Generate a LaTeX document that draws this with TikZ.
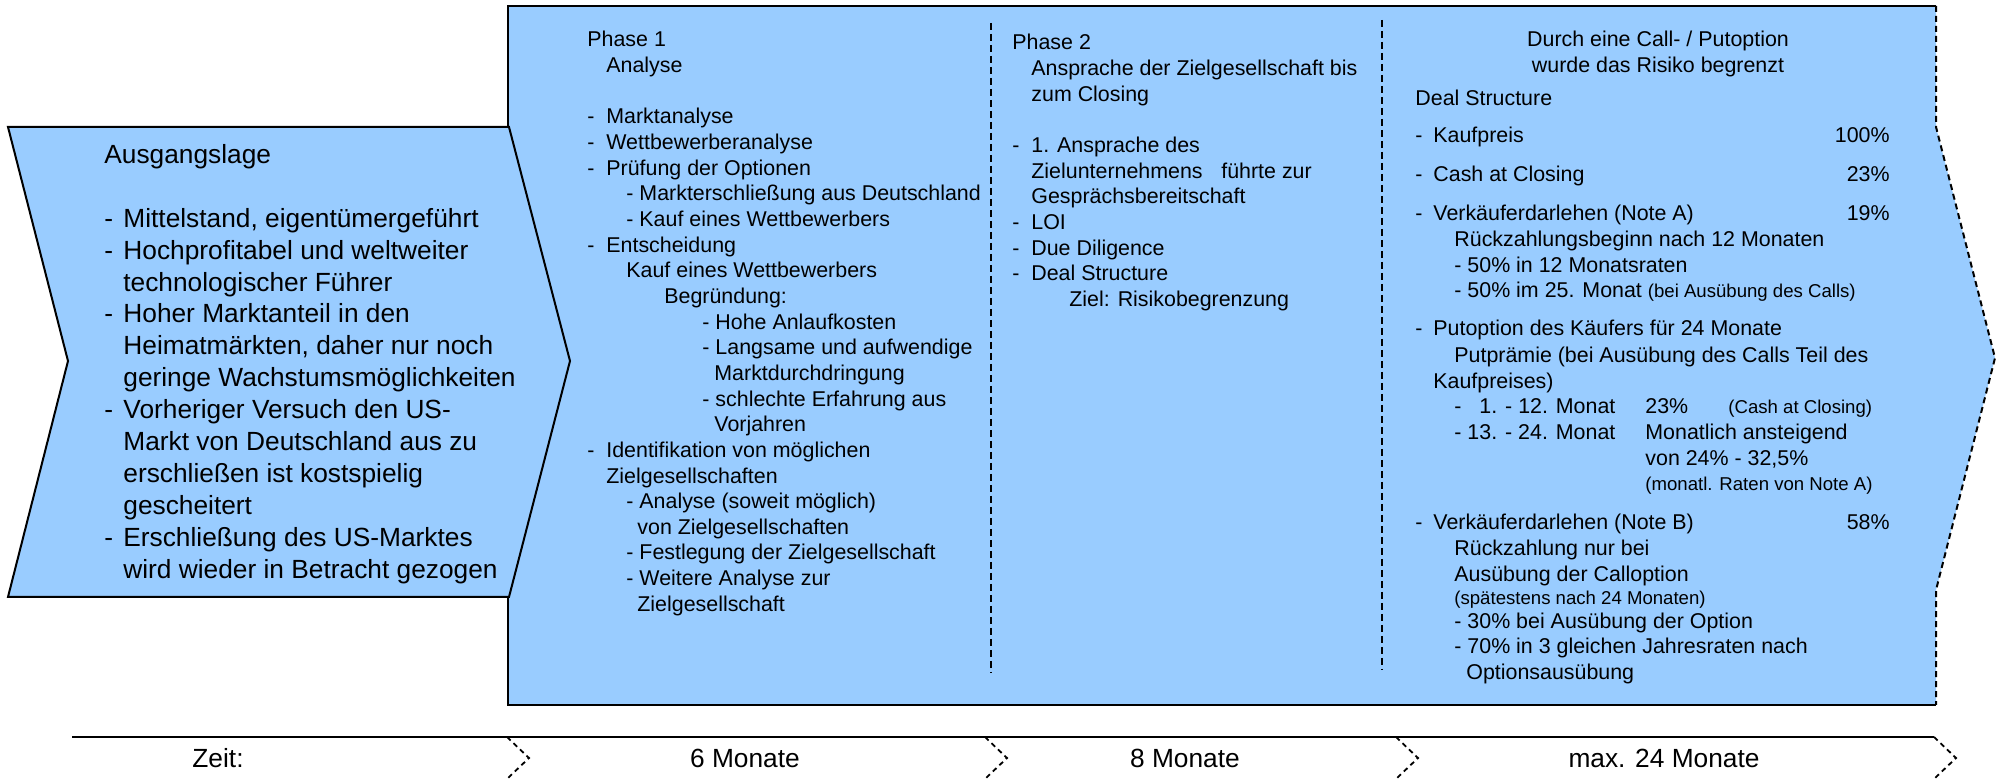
\documentclass[tikz,border=0pt]{standalone}
\usepackage{fontspec}
\setmainfont{Liberation Sans}
% one drawing unit = half a point
\newlength\pxu
\setlength\pxu{0.5pt}
\newcommand\Dash[1][19]{\makebox[#1\pxu][l]{-}}
\newcommand\Ind[1]{\hspace*{#1\pxu}}
\newcommand\fbig{\fontsize{13.15}{15.95}\selectfont}
\newcommand\fcol{\fontsize{10.7}{12.825}\selectfont}
\newcommand\fsmall{\fontsize{9.3}{11}\selectfont}
\definecolor{panelblue}{HTML}{99CCFF}

\begin{document}
\begin{tikzpicture}[x=0.5pt, y=-0.5pt,
  outline/.style={line width=1pt, line join=miter},
  sepline/.style={line width=1pt, dash pattern=on 3.5pt off 2pt},
  edgedash/.style={line width=1pt, dash pattern=on 3pt off 2pt},
  tickdash/.style={line width=0.9pt, dash pattern=on 2.5pt off 2pt},
  txt/.style={inner sep=0pt, anchor=base west, font=\fcol},
  pct/.style={inner sep=0pt, anchor=base east, font=\fcol},
  timetxt/.style={inner sep=0pt, anchor=base, font=\fbig}]

\useasboundingbox (0,0) rectangle (1998,779);

% phase panel with open arrow on the right
\coordinate (pTL) at (508,6);
\coordinate (pTR) at (1936,6);
\coordinate (pR1) at (1936,127);
\coordinate (pTip) at (1995,358);
\coordinate (pR2) at (1936,590);
\coordinate (pBR) at (1936,705);
\coordinate (pBL) at (508,705);
\fill[panelblue] (pTL) -- (pTR) -- (pR1) -- (pTip) -- (pR2) -- (pBR) -- (pBL) -- cycle;
\draw[outline] (pTR) -- (pTL) -- (pBL) -- (pBR);
\draw[edgedash] (pTR) -- (pR1) -- (pTip) -- (pR2) -- (pBR);

% starting situation chevron
\filldraw[outline, fill=panelblue] (8,127) -- (509,127) -- (570,361) -- (509,597) -- (8,597) -- (68,361) -- cycle;

% column separators
\coordinate (s1a) at (991,23);
\coordinate (s1b) at (991,673);
\coordinate (s2a) at (1382,20);
\coordinate (s2b) at (1382,670);
\draw[sepline] (s1a) -- (s1b);
\draw[sepline] (s2a) -- (s2b);

% text of the chevron
\node[txt, font=\fbig] (ausgang) at (104,163.5) {\begin{tabular}[t]{@{}l@{}}
Ausgangslage\\
\\
\Dash Mittelstand, eigentümergeführt\\
\Dash Hochprofitabel und weltweiter\\
\Ind{19}technologischer Führer\\
\Dash Hoher Marktanteil in den\\
\Ind{19}Heimatmärkten, daher nur noch\\
\Ind{19}geringe Wachstumsmöglichkeiten\\
\Dash Vorheriger Versuch den US-\\
\Ind{19}Markt von Deutschland aus zu\\
\Ind{19}erschließen ist kostspielig\\
\Ind{19}gescheitert\\
\Dash Erschließung des US-Marktes\\
\Ind{19}wird wieder in Betracht gezogen
\end{tabular}};

% phase 1
\node[txt] (phase1) at (587,47) {\begin{tabular}[t]{@{}l@{}}
Phase 1\\
\Ind{19}Analyse\\
\\
\Dash Marktanalyse\\
\Dash Wettbewerberanalyse\\
\Dash Prüfung der Optionen\\
\Ind{39}- Markterschließung aus Deutschland\\
\Ind{39}- Kauf eines Wettbewerbers\\
\Dash Entscheidung\\
\Ind{39}Kauf eines Wettbewerbers\\
\Ind{77}Begründung:\\
\Ind{115}- Hohe Anlaufkosten\\
\Ind{115}- Langsame und aufwendige\\
\Ind{127}Marktdurchdringung\\
\Ind{115}- schlechte Erfahrung aus\\
\Ind{127}Vorjahren\\
\Dash Identifikation von möglichen\\
\Ind{19}Zielgesellschaften\\
\Ind{39}- Analyse (soweit möglich)\\
\Ind{50}von Zielgesellschaften\\
\Ind{39}- Festlegung der Zielgesellschaft\\
\Ind{39}- Weitere Analyse zur\\
\Ind{50}Zielgesellschaft
\end{tabular}};

% phase 2
\node[txt] (phase2) at (1012,50) {\begin{tabular}[t]{@{}l@{}}
Phase 2\\
\Ind{19}Ansprache der Zielgesellschaft bis\\
\Ind{19}zum Closing\\
\\
\Dash 1. Ansprache des\\
\Ind{19}\makebox[190\pxu][l]{Zielunternehmens}führte zur\\
\Ind{19}Gesprächsbereitschaft\\
\Dash LOI\\
\Dash Due Diligence\\
\Dash Deal Structure\\
\Ind{57}Ziel: Risikobegrenzung
\end{tabular}};

% phase 3
\node[timetxt, font=\fcol] (callput) at (1658,47) {\begin{tabular}[t]{@{}c@{}}
Durch eine Call- / Putoption\\
wurde das Risiko begrenzt
\end{tabular}};

\node[txt] (deal) at (1415,106) {\begin{tabular}[t]{@{}l@{}}
Deal Structure\\[11.35\pxu]
\Dash[18]Kaufpreis\\[13.35\pxu]
\Dash[18]Cash at Closing\\[13.35\pxu]
\Dash[18]Verkäuferdarlehen (Note A)\\
\Ind{39}Rückzahlungsbeginn nach 12 Monaten\\
\Ind{39}- 50\% in 12 Monatsraten\\
\Ind{39}- 50\% im 25. Monat {\fsmall (bei Ausübung des Calls)}\\[12.35\pxu]
\Dash[18]Putoption des Käufers für 24 Monate\\[1\pxu]
\Ind{39}Putprämie (bei Ausübung des Calls Teil des\\
\Ind{18}Kaufpreises)\\
\Ind{39}\Dash[25]\makebox[166\pxu][l]{1. - 12. Monat}\makebox[83\pxu][l]{23\%}{\fsmall (Cash at Closing)}\\
\Ind{39}\makebox[191\pxu][l]{- 13. - 24. Monat}Monatlich ansteigend\\
\Ind{230}von 24\% - 32,5\%\\
\Ind{230}{\fsmall (monatl. Raten von Note A)}\\[13.35\pxu]
\Dash[18]Verkäuferdarlehen (Note B)\\
\Ind{39}Rückzahlung nur bei\\
\Ind{39}Ausübung der Calloption\\ \noalign{\vskip -2.65\pxu}
\Ind{39}{\fsmall (spätestens nach 24 Monaten)}\\ \noalign{\vskip -1.65\pxu}
\Ind{39}- 30\% bei Ausübung der Option\\
\Ind{39}- 70\% in 3 gleichen Jahresraten nach\\
\Ind{51}Optionsausübung
\end{tabular}};

\node[pct] (p100) at (1890,143) {100\%};
\node[pct] (p23) at (1890,182) {23\%};
\node[pct] (p19) at (1890,221) {19\%};
\node[pct] (p58) at (1890,530) {58\%};

% time line
\coordinate (tStart) at (72,737);
\coordinate (tEnd) at (1934,737);
\draw[line width=1pt] (tStart) -- (tEnd);
\foreach \mx in {507,985,1396,1934}{
  \draw[tickdash] (\mx,737) -- (\mx+22,758) -- (\mx,779);
}
\node[timetxt] (zeit) at (218,768) {Zeit:};
\node[timetxt] (m6) at (745,768) {6 Monate};
\node[timetxt] (m8) at (1185,768) {8 Monate};
\node[timetxt] (m24) at (1664,768) {max. 24 Monate};
\end{tikzpicture}
\end{document}
